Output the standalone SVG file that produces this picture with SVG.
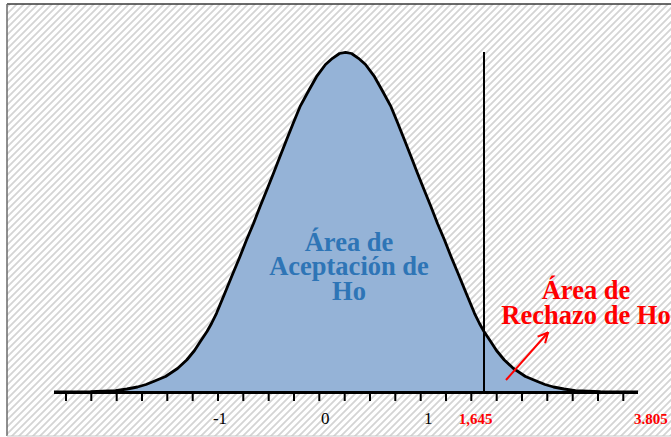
<svg xmlns="http://www.w3.org/2000/svg" width="671" height="437" viewBox="0 0 671 437">
<style>
.lbl{font-family:"Liberation Serif","Times New Roman",serif;}
.big{font-size:26.5px;font-weight:bold;text-anchor:middle;}
.blue{fill:#2E75B6;}
.red{fill:#FF0000;}
.ax{font-size:17px;fill:#000;text-anchor:middle;}
.axr{font-size:15px;font-weight:bold;fill:#FF0000;text-anchor:middle;}
.tick{stroke:#000;stroke-width:2;}
</style>
<defs>
<pattern id="hatch" patternUnits="userSpaceOnUse" width="7" height="7">
<path d="M-1,1 L1,-1 M0,7 L7,0 M6,8 L8,6" stroke="#d4d4d4" stroke-width="1.8"/>
</pattern>
<marker id="openArrow" viewBox="0 0 12 12" refX="11" refY="6" markerWidth="12" markerHeight="12" markerUnits="userSpaceOnUse" orient="auto">
<path d="M1,1 L11,6 L1,11" fill="none" stroke="#FF0000" stroke-width="2"/>
</marker>
<path id="bell" d="M54,392 L90.5,391.7 L115.5,390.6 L127,389 L137.5,387 L146,384.5 L153.5,381.5 L165.5,376.5 L177.5,368.5 L186.7,360 L194.5,350.5 L200,342 L207,331.5 L211.5,323.5 L216.5,313.3 L224.5,294 L233,273.3 L239.8,257 L246.5,240 L253.5,223.5 L260,206.7 L266.8,190 L273.5,173.3 L280,156.5 L286.5,140 L293.5,122.5 L300,106.7 L308.5,91 L316.5,76.7 L325.5,64.5 L332.5,58.3 L339.5,53.5 L345.5,52.3 L351.5,53.5 L358.5,58.3 L365.5,64.5 L374.5,76.7 L382.5,91 L391,106.7 L397.5,122.5 L404.5,140 L411,156.5 L417.5,173.3 L424.2,190 L431,206.7 L437.5,223.5 L444.5,240 L451.2,257 L458,273.3 L466.5,294 L474.5,313.3 L479.5,323.5 L484,331.5 L491,342 L496.5,350.5 L504.3,360 L513.5,368.5 L525.5,376.5 L537.5,381.5 L545,384.5 L553.5,387 L564,389 L575.5,390.6 L600.5,391.7 L638,392"/>
</defs>
<rect x="0" y="0" width="671" height="437" fill="#ffffff"/>
<g id="background">
<rect x="7" y="4" width="670" height="432" fill="url(#hatch)"/>
<line x1="7" y1="4" x2="671" y2="4" stroke="#3a3a3a" stroke-width="1.5"/>
<line x1="7" y1="4" x2="7" y2="436" stroke="#6a6a6a" stroke-width="1.5"/>
<line x1="7" y1="436" x2="671" y2="436" stroke="#c8c8c8" stroke-width="1"/>
</g>
<g id="area">
<use href="#bell" fill="#95B3D7" stroke="none"/>
</g>
<g id="critical-line">
<line x1="484" y1="52" x2="484" y2="392" stroke="#000" stroke-width="2"/>
</g>
<g id="curve">
<use href="#bell" fill="none" stroke="#000" stroke-width="2.8" stroke-linejoin="round"/>
</g>
<g id="axis">
<line x1="54" y1="392.5" x2="638" y2="392.5" stroke="#000" stroke-width="3"/>
<path class="tick" d="M66,393 V401 M91.3,393 V401 M116.7,393 V401 M142,393 V401 M167.3,393 V401 M192.7,393 V401 M218,393 V401 M243.3,393 V401 M268.7,393 V401 M294,393 V401 M319.3,393 V401 M344.7,393 V401 M370,393 V401 M395.3,393 V401 M420.7,393 V401 M446,393 V401 M471.3,393 V401 M496.7,393 V401 M522,393 V401 M547.3,393 V401 M572.7,393 V401 M598,393 V401 M623.3,393 V401"/>
<text class="lbl ax" x="220" y="424">-1</text>
<text class="lbl ax" x="325.3" y="424">0</text>
<text class="lbl ax" x="428.3" y="424">1</text>
<text class="lbl axr" x="475.5" y="424">1,645</text>
<text class="lbl axr" x="650.8" y="424">3.805</text>
</g>
<g id="acceptance-label">
<text class="lbl big blue" x="349" y="250.7">Área de</text>
<text class="lbl big blue" x="349" y="275.2">Aceptación de</text>
<text class="lbl big blue" x="349" y="299.8">Ho</text>
</g>
<g id="rejection-label">
<text class="lbl big red" x="586" y="299">Área de</text>
<text class="lbl big red" x="586" y="324">Rechazo de Ho</text>
</g>
<g id="connectors">
<line x1="506" y1="380" x2="548" y2="332.5" stroke="#FF0000" stroke-width="2" marker-end="url(#openArrow)"/>
</g>
</svg>
